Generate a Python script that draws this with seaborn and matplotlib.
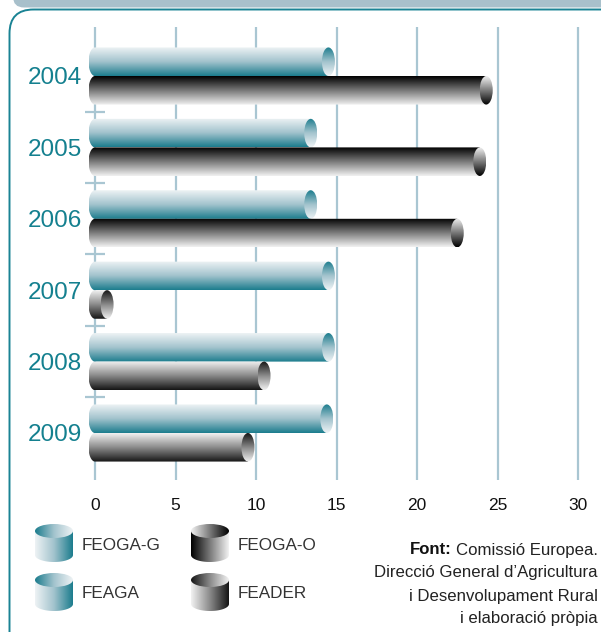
import numpy as np
import pandas as pd
import matplotlib
matplotlib.use("Agg")
import matplotlib.pyplot as plt
import seaborn as sns
from matplotlib.patches import Ellipse, PathPatch, FancyBboxPatch
from matplotlib.path import Path
from matplotlib.colors import LinearSegmentedColormap

# ---------------------------------------------------------------- data
years = ["2004", "2005", "2006", "2007", "2008", "2009"]
guarantee_fund = ["FEOGA-G", "FEOGA-G", "FEOGA-G", "FEAGA", "FEAGA", "FEAGA"]
guarantee_values = [14.5, 13.4, 13.4, 14.5, 14.5, 14.4]
rural_fund = ["FEOGA-O", "FEOGA-O", "FEOGA-O", "FEADER", "FEADER", "FEADER"]
rural_values = [24.3, 23.9, 22.5, 0.75, 10.5, 9.5]
x_ticks = [0, 5, 10, 15, 20, 25, 30]
legend_rows = [["FEOGA-G", "FEOGA-O"], ["FEAGA", "FEADER"]]
source_bold = "Font:"
source_lines = ["Comissió Europea.",
                "Direcció General d\u2019Agricultura",
                "i Desenvolupament Rural",
                "i elaboració pròpia"]

# ---------------------------------------------------------------- style
W, H = 601, 632
TEAL = "#1a8394"
BAND = "#a8c0cb"
GRID = "#a9c6d2"
FONT = "Liberation Sans"

# gradient stops: first colour = top of a bar (left side of a legend drum)
fund_style = {
    "FEOGA-G": ["#eef3f5", "#a2c3cd", "#1b7c8d"],
    "FEAGA":   ["#eef3f5", "#a2c3cd", "#1b7c8d"],
    "FEOGA-O": ["#000000", "#7a7a7a", "#f2f2f2"],
    "FEADER":  ["#f2f2f2", "#8a8a8a", "#151515"],
}


def cmap_for(name, reverse=False):
    cols = fund_style[name][::-1] if reverse else fund_style[name]
    return LinearSegmentedColormap.from_list(name + ("_r" if reverse else ""), cols)


sns.set_style("white")
plt.rcParams["font.family"] = [FONT, "DejaVu Sans"]

fig = plt.figure(figsize=(W / 100, H / 100), dpi=100)

# ---------------------------------------------------------------- frame
bg = fig.add_axes([0, 0, 1, 1], zorder=0)
bg.set_xlim(0, W)
bg.set_ylim(H, 0)
bg.axis("off")
bg.add_patch(FancyBboxPatch((13, -40), W + 40, 47.5,
                            boxstyle="round,pad=0,rounding_size=11",
                            fc=BAND, ec="none"))
bg.add_patch(FancyBboxPatch((9.5, 9.5), W + 40, H + 40,
                            boxstyle="round,pad=0,rounding_size=24",
                            fc="none", ec=TEAL, lw=1.4))

# ---------------------------------------------------------------- bar axes
px_per_unit = 16.1
x_lo, x_hi = -0.8, 30.5
ax_left = 95 - (-x_lo) * px_per_unit
ax_w = (x_hi - x_lo) * px_per_unit
ax_top, ax_bottom = 27, 480
ax = fig.add_axes([ax_left / W, 1 - ax_bottom / H, ax_w / W, (ax_bottom - ax_top) / H],
                  zorder=1)
ax.patch.set_alpha(0)

df = pd.DataFrame({
    "any": years * 2,
    "fons": ["garantia"] * len(years) + ["rural"] * len(years),
    "valor": guarantee_values + rural_values,
})
sns.barplot(data=df, y="any", x="valor", hue="fons", orient="h",
            order=years, hue_order=["garantia", "rural"], dodge=True,
            width=0.8, errorbar=None, legend=False, ax=ax)

cap_a = 6.5 / px_per_unit  # half width of the drum ends, in data units


def draw_cylinder(ax, x1, yc, h, name, z):
    a = cap_a
    t = np.linspace(np.pi / 2, 3 * np.pi / 2, 60)
    arc = np.column_stack([a * np.cos(t), yc - (h / 2) * np.sin(t)])
    verts = np.vstack([arc, [[x1, yc + h / 2], [x1, yc - h / 2], arc[0], arc[0]]])
    body = PathPatch(Path(verts, closed=True), transform=ax.transData,
                     fc="none", ec="none")
    ax.add_patch(body)
    grad = np.linspace(0, 1, 256).reshape(-1, 1)
    im = ax.imshow(grad, cmap=cmap_for(name), aspect="auto", origin="upper",
                   extent=(-a, x1, yc + h / 2, yc - h / 2),
                   interpolation="bilinear", zorder=z)
    im.set_clip_path(body)
    cap = Ellipse((x1, yc), 2 * a, h, transform=ax.transData,
                  fc="none", ec="none")
    ax.add_patch(cap)
    im2 = ax.imshow(grad, cmap=cmap_for(name, reverse=True), aspect="auto",
                    origin="upper", extent=(x1 - a, x1 + a, yc + h / 2, yc - h / 2),
                    interpolation="bilinear", zorder=z + 0.5)
    im2.set_clip_path(cap)


for level, cont in enumerate(ax.containers):
    for p in cont:
        p.set_visible(False)
        yc = p.get_y() + p.get_height() / 2
        idx = int(round(yc))
        name = guarantee_fund[idx] if level == 0 else rural_fund[idx]
        draw_cylinder(ax, p.get_x() + p.get_width(), yc, p.get_height(), name,
                      z=3 + level)

ax.set_xlim(x_lo, x_hi)
ax.set_ylim(len(years) - 1 + 47 / 71.4, -49 / 71.4)
ax.set_xticks(x_ticks)
ax.set_xticklabels([str(v) for v in x_ticks])
ax.grid(axis="x", color=GRID, lw=1.6)
ax.grid(axis="y", visible=False)
ax.set_axisbelow(True)
sep = np.arange(len(years) - 1) + 0.5
ax.hlines(sep, -0.62, 0.62, color=GRID, lw=1.6, zorder=1)
for s in ax.spines.values():
    s.set_visible(False)
ax.set_xlabel("")
ax.set_ylabel("")
ax.tick_params(axis="x", length=0, pad=13, labelsize=12.5, labelcolor="#111111")
ax.tick_params(axis="y", length=0, pad=0, labelsize=17.5, labelcolor="#14808f")

# ---------------------------------------------------------------- legend drums
legend_pos = {"FEOGA-G": (35, 524), "FEOGA-O": (191, 524),
              "FEAGA": (35, 573), "FEADER": (191, 573)}
drum_w, drum_h, rim = 38, 38, 7


def draw_drum(x0, y0, name):
    grad = np.linspace(0, 1, 256).reshape(1, -1)
    t = np.linspace(0, np.pi, 60)
    cx = x0 + drum_w / 2
    bottom = np.column_stack([cx + (drum_w / 2) * np.cos(t),
                              y0 + drum_h - rim + rim * np.sin(t)])
    verts = np.vstack([[[x0 + drum_w, y0 + rim], [x0 + drum_w, y0 + drum_h - rim]],
                       bottom, [[x0, y0 + rim], [x0 + drum_w, y0 + rim],
                                [x0 + drum_w, y0 + rim]]])
    body = PathPatch(Path(verts, closed=True), fc="none", ec="none")
    bg.add_patch(body)
    im = bg.imshow(grad, cmap=cmap_for(name), aspect="auto",
                   extent=(x0, x0 + drum_w, y0 + drum_h, y0 + rim),
                   interpolation="bilinear", zorder=2)
    im.set_clip_path(body)
    top = Ellipse((cx, y0 + rim), drum_w, 2 * rim, fc="none", ec="none")
    bg.add_patch(top)
    im2 = bg.imshow(grad, cmap=cmap_for(name, reverse=True), aspect="auto",
                    extent=(x0, x0 + drum_w, y0 + 2 * rim, y0),
                    interpolation="bilinear", zorder=3)
    im2.set_clip_path(top)


for row in legend_rows:
    for name in row:
        x0, y0 = legend_pos[name]
        draw_drum(x0, y0, name)
        bg.text(x0 + drum_w + 9, y0 + drum_h / 2 + 2, name, ha="left", va="center",
                fontsize=12.3, color="#333333")
bg.set_xlim(0, W)
bg.set_ylim(H, 0)

# ---------------------------------------------------------------- source note
line_y = [550, 573, 596, 619]
src_texts = []
for yy, line in zip(line_y, source_lines):
    src_texts.append(bg.text(598, yy, line, ha="right", va="center",
                             fontsize=12.1, color="#222222"))
fig.canvas.draw()
renderer = fig.canvas.get_renderer()
first = src_texts[0].get_window_extent(renderer)
left_px = bg.transData.inverted().transform((first.x0, first.y0))[0]
bg.text(left_px - 4, line_y[0], source_bold, ha="right", va="center",
        fontsize=12.1, fontweight="bold", color="#111111")

fig.savefig("out.png", dpi=100)
